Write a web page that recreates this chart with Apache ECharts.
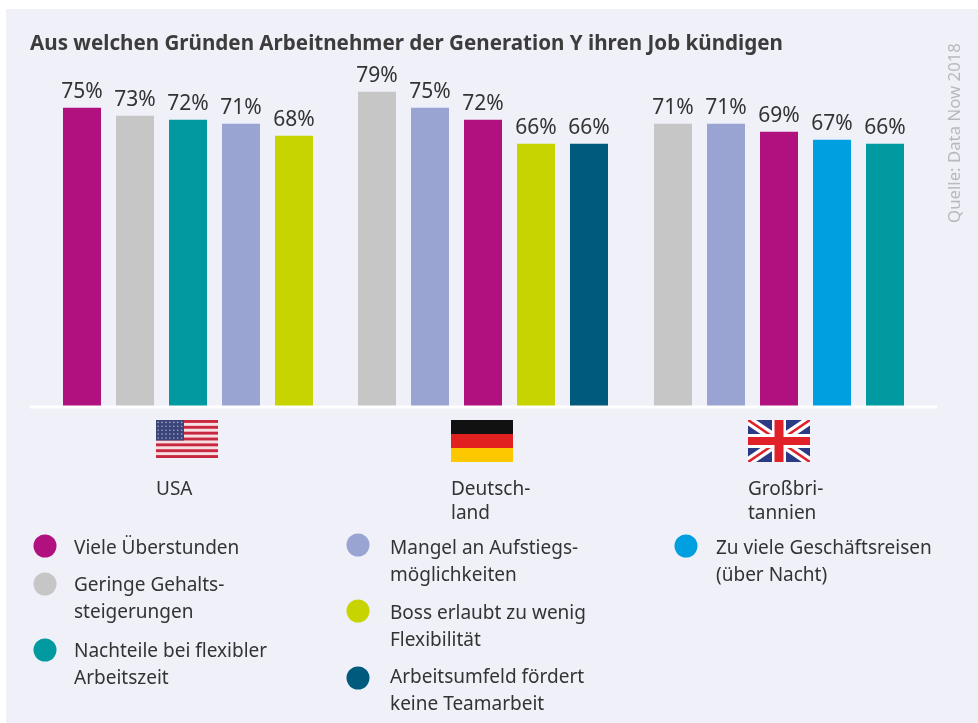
<!DOCTYPE html>
<html>
<head>
<meta charset="utf-8">
<title>Generation Y</title>
<style>
  html, body { margin: 0; padding: 0; background: #fff; }
  #chart { width: 978px; height: 723px; }
</style>
</head>
<body>
<div id="chart"></div>
<script src="https://cdn.jsdelivr.net/npm/echarts@6/dist/echarts.min.js"></script>
<script>
const titleText = 'Aus welchen Gründen Arbeitnehmer der Generation Y ihren Job kündigen'
const sourceText = 'Quelle: Data Now 2018'

const usaReasons = ['Viele Überstunden', 'Geringe Gehaltssteigerungen', 'Nachteile bei flexibler Arbeitszeit', 'Mangel an Aufstiegsmöglichkeiten', 'Boss erlaubt zu wenig Flexibilität']
const usaValues = [75, 73, 72, 71, 68]

const deReasons = ['Geringe Gehaltssteigerungen', 'Mangel an Aufstiegsmöglichkeiten', 'Viele Überstunden', 'Boss erlaubt zu wenig Flexibilität', 'Arbeitsumfeld fördert keine Teamarbeit']
const deValues = [79, 75, 72, 66, 66]

const ukReasons = ['Geringe Gehaltssteigerungen', 'Mangel an Aufstiegsmöglichkeiten', 'Viele Überstunden', 'Zu viele Geschäftsreisen (über Nacht)', 'Nachteile bei flexibler Arbeitszeit']
const ukValues = [71, 71, 69, 67, 66]

const countryLabels = ['USA', 'Deutsch-\nland', 'Großbri-\ntannien']

const legendLines = {
  'Viele Überstunden': 'Viele Überstunden',
  'Geringe Gehaltssteigerungen': 'Geringe Gehalts-\nsteigerungen',
  'Nachteile bei flexibler Arbeitszeit': 'Nachteile bei flexibler\nArbeitszeit',
  'Mangel an Aufstiegsmöglichkeiten': 'Mangel an Aufstiegs-\nmöglichkeiten',
  'Boss erlaubt zu wenig Flexibilität': 'Boss erlaubt zu wenig\nFlexibilität',
  'Arbeitsumfeld fördert keine Teamarbeit': 'Arbeitsumfeld fördert\nkeine Teamarbeit',
  'Zu viele Geschäftsreisen (über Nacht)': 'Zu viele Geschäftsreisen\n(über Nacht)'
}

const reasonColors = {
  'Viele Überstunden': '#b0117f',
  'Geringe Gehaltssteigerungen': '#c6c6c6',
  'Nachteile bei flexibler Arbeitszeit': '#009aa0',
  'Mangel an Aufstiegsmöglichkeiten': '#9aa4d2',
  'Boss erlaubt zu wenig Flexibilität': '#c8d400',
  'Arbeitsumfeld fördert keine Teamarbeit': '#005a7d',
  'Zu viele Geschäftsreisen (über Nacht)': '#009fe0'
}

const fontName = '"Noto Sans", sans-serif'
const textColor = '#333333'

const groups = [
  { reasons: usaReasons, values: usaValues, left: 55.5 },
  { reasons: deReasons, values: deValues, left: 350.5 },
  { reasons: ukReasons, values: ukValues, left: 646.5 }
]

const grids = groups.map((g) => ({ left: g.left, width: 265, top: 8, height: 399 }))
const xAxes = groups.map((g, i) => ({
  type: 'category',
  gridIndex: i,
  data: g.reasons,
  show: false
}))
const yAxes = groups.map((g, i) => ({
  type: 'value',
  gridIndex: i,
  min: 0,
  max: 100,
  show: false
}))
const barSeries = groups.map((g, i) => ({
  type: 'bar',
  xAxisIndex: i,
  yAxisIndex: i,
  barWidth: 38,
  data: g.values.map((v, j) => ({
    value: v,
    itemStyle: { color: reasonColors[g.reasons[j]] }
  })),
  label: {
    show: true,
    position: 'top',
    distance: 5,
    formatter: '{c}%',
    color: textColor,
    fontFamily: fontName,
    fontSize: 21
  }
}))

// Flaggen
const usFlag = (() => {
  let s = '<svg xmlns="http://www.w3.org/2000/svg" width="62" height="38"><rect width="62" height="38" fill="#f6dfe2"/>'
  for (let i = 0; i < 7; i++) {
    s += `<rect y="${i * 5.85}" width="62" height="2.9" fill="#c8283f"/>`
  }
  s += '<rect width="28" height="20.5" fill="#3a4478"/>'
  for (let r = 0; r < 5; r++) {
    for (let c = 0; c < 7; c++) {
      s += `<circle cx="${2.2 + c * 3.9}" cy="${2.4 + r * 3.9}" r="0.8" fill="#a9aecb"/>`
    }
  }
  return s + '</svg>'
})()
const deFlag = '<svg xmlns="http://www.w3.org/2000/svg" width="62" height="42"><rect width="62" height="14" fill="#111"/><rect y="14" width="62" height="14" fill="#e1211f"/><rect y="28" width="62" height="14" fill="#fdc800"/></svg>'
const ukFlag = '<svg xmlns="http://www.w3.org/2000/svg" width="62" height="42"><rect width="62" height="42" fill="#2b3a84"/>' +
  '<path d="M0 0L62 42M62 0L0 42" stroke="#fff" stroke-width="9"/>' +
  '<path d="M0 0L62 42M62 0L0 42" stroke="#e1212a" stroke-width="2.6"/>' +
  '<rect x="24" width="14" height="42" fill="#fff"/><rect y="14" width="62" height="14" fill="#fff"/>' +
  '<rect x="26.5" width="9" height="42" fill="#e1212a"/><rect y="17" width="62" height="8" fill="#e1212a"/></svg>'
const flagUri = (svg) => 'data:image/svg+xml;charset=utf-8,' + encodeURIComponent(svg)

const graphics = [
  // Hintergrund
  { type: 'rect', z: -10, shape: { x: 6, y: 9, width: 972, height: 714 }, style: { fill: '#eff0f8' } },
  {
    type: 'text', x: 30, y: 34,
    style: { text: titleText, fill: '#3c3c3c', font: `bold 20.6px ${fontName}` }
  },
  {
    type: 'text', x: 955, y: 133, rotation: Math.PI / 2, originX: 0, originY: 0,
    style: { text: sourceText, fill: '#b9b9bd', font: `16.8px ${fontName}`, align: 'center', verticalAlign: 'middle' }
  },
  { type: 'line', z: 10, shape: { x1: 30, y1: 407, x2: 937, y2: 407 }, style: { stroke: '#fff', lineWidth: 3 } },
  { type: 'image', style: { image: flagUri(usFlag), x: 156, y: 420, width: 62, height: 38 } },
  { type: 'image', style: { image: flagUri(deFlag), x: 451, y: 420, width: 62, height: 42 } },
  { type: 'image', style: { image: flagUri(ukFlag), x: 748, y: 420, width: 62, height: 42 } }
]

const countryX = [156, 451, 748]
countryLabels.forEach((name, i) => {
  graphics.push({
    type: 'text', x: countryX[i], y: 478,
    style: { text: name, fill: textColor, font: `19px ${fontName}`, lineHeight: 24 }
  })
})

const legendLayout = [
  { name: 'Viele Überstunden', cx: 45, cy: 546, tx: 74, ty: 535 },
  { name: 'Geringe Gehaltssteigerungen', cx: 45, cy: 584, tx: 74, ty: 572 },
  { name: 'Nachteile bei flexibler Arbeitszeit', cx: 45, cy: 650, tx: 74, ty: 638 },
  { name: 'Mangel an Aufstiegsmöglichkeiten', cx: 358, cy: 545, tx: 390, ty: 535 },
  { name: 'Boss erlaubt zu wenig Flexibilität', cx: 358, cy: 611, tx: 390, ty: 600 },
  { name: 'Arbeitsumfeld fördert keine Teamarbeit', cx: 358, cy: 678, tx: 390, ty: 664 },
  { name: 'Zu viele Geschäftsreisen (über Nacht)', cx: 686, cy: 546, tx: 716, ty: 535 }
]
legendLayout.forEach((item) => {
  graphics.push({
    type: 'circle',
    shape: { cx: item.cx, cy: item.cy, r: 11.5 },
    style: { fill: reasonColors[item.name] }
  })
  graphics.push({
    type: 'text', x: item.tx, y: item.ty,
    style: { text: legendLines[item.name], fill: textColor, font: `19px ${fontName}`, lineHeight: 27 }
  })
})

const chart = echarts.init(document.getElementById('chart'))
chart.setOption({
  animation: false,
  backgroundColor: '#ffffff',
  grid: grids,
  xAxis: xAxes,
  yAxis: yAxes,
  series: barSeries,
  graphic: graphics
})
</script>
</body>
</html>
